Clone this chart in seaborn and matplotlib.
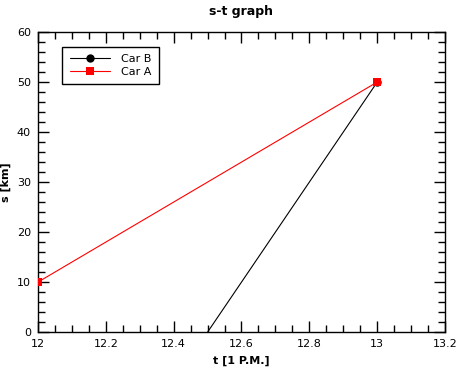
import numpy as np
import pandas as pd
import seaborn as sns
import matplotlib.pyplot as plt
from matplotlib.ticker import MultipleLocator

# values
car_b_t = [12.5, 13.0]
car_b_s = [0, 50]
car_a_t = [12.0, 13.0]
car_a_s = [10, 50]

df = pd.concat([
    pd.DataFrame({'t': car_b_t, 's': car_b_s, 'car': 'Car B'}),
    pd.DataFrame({'t': car_a_t, 's': car_a_s, 'car': 'Car A'}),
])

sns.set_style('ticks')
plt.rcParams['font.family'] = ['DejaVu Sans']
plt.rcParams['font.size'] = 8
plt.rcParams['text.color'] = 'black'
plt.rcParams['axes.labelcolor'] = 'black'
plt.rcParams['xtick.color'] = 'black'
plt.rcParams['ytick.color'] = 'black'

fig = plt.figure(figsize=(4.68, 3.77), dpi=100)
ax = fig.add_axes([0.081, 0.119, 0.87, 0.796])

sns.lineplot(data=df, x='t', y='s', hue='car', style='car',
             palette={'Car B': 'black', 'Car A': 'red'},
             markers={'Car B': 'o', 'Car A': 's'}, dashes=False,
             markersize=6, markeredgewidth=0, linewidth=0.8, ax=ax)

# car B's marker only shows at the shared end point
ax.lines[0].set_markevery([1])
ax.lines[1].set_zorder(3)

ax.set_xlim(12, 13.2)
ax.set_ylim(0, 60)
ax.xaxis.set_major_locator(MultipleLocator(0.2))
ax.xaxis.set_minor_locator(MultipleLocator(0.05))
ax.yaxis.set_major_locator(MultipleLocator(10))
ax.yaxis.set_minor_locator(MultipleLocator(2))
ax.set_xticks(np.arange(12, 13.21, 0.2))
ax.set_xticklabels(['12', '12.2', '12.4', '12.6', '12.8', '13', '13.2'])
ax.tick_params(which='both', direction='in', top=True, right=True, width=1, labelsize=8)
ax.tick_params(which='major', length=8, pad=5)
ax.tick_params(which='minor', length=5)
for sp in ax.spines.values():
    sp.set_linewidth(1)
    sp.set_visible(True)
    sp.set_color('black')

ax.set_xlabel('t [1 P.M.]', fontsize=8, fontweight='bold', labelpad=5)
ax.set_ylabel('s [km]', fontsize=8, fontweight='bold', labelpad=4)
ax.set_title('s-t graph', fontsize=9, fontweight='bold', pad=12)

leg = ax.legend(loc='upper left', bbox_to_anchor=(0.045, 0.97), fancybox=False,
                edgecolor='black', framealpha=1, fontsize=8, handlelength=3.6,
                borderpad=0.7, labelspacing=0.2, handletextpad=1.0)
leg.get_frame().set_linewidth(1)

fig.savefig('out.png', dpi=100)
